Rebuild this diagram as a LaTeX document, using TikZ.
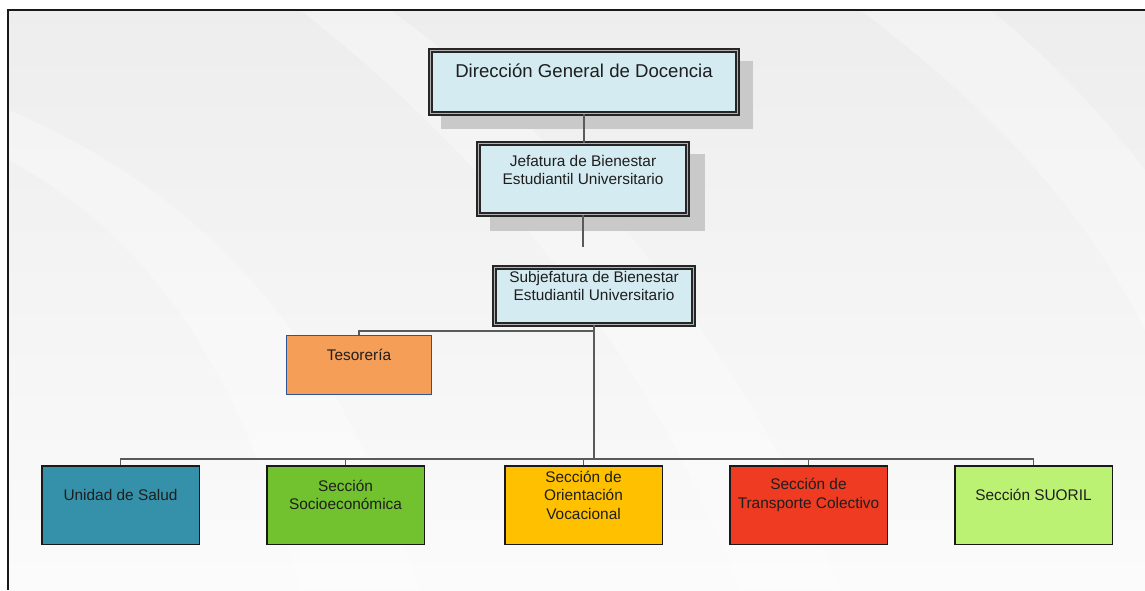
\documentclass[tikz,border=0pt]{standalone}
\usepackage{fontspec}
\setmainfont{Liberation Sans}
\definecolor{boxblue}{HTML}{D4EBF1}
\definecolor{shadowc}{HTML}{C9C9C9}
\definecolor{linec}{HTML}{5A5A5A}
\definecolor{txtc}{HTML}{1E1E1E}
\definecolor{salud}{HTML}{3591A9}
\definecolor{socio}{HTML}{72C22F}
\definecolor{orient}{HTML}{FFC000}
\definecolor{transp}{HTML}{EE3B22}
\definecolor{suoril}{HTML}{BCF274}
\definecolor{teso}{HTML}{F59E58}
\definecolor{tesoline}{HTML}{2F5597}
\begin{document}
\begin{tikzpicture}[x=1pt,y=-1pt,
  headbox/.style={rectangle, draw=black!85, line width=1.5pt, double=gray!60,
    double distance=1.1pt, fill=boxblue, inner sep=0pt},
  unitbox/.style={rectangle, draw=black!90, line width=1.5pt, inner sep=0pt,
    minimum width=157.5, minimum height=78.5, fill=#1},
  txt/.style={align=center, inner sep=0pt, text=txtc,
    font=\fontsize{15.4}{18.6}\selectfont},
  bigtxt/.style={txt, font=\fontsize{18.6}{22}\selectfont},
  conn/.style={draw=linec, line width=1.2pt},
  band/.style={fill=white, opacity=0.3}]
\useasboundingbox (0,0) rectangle (1145,590);
\fill[white] (0,0) rectangle (1145,590);

% page background with soft light bands
\shade[top color=black!7, bottom color=black!1.5] (8,10) rectangle (1145,590);
\begin{scope}
  \clip (8,10) rectangle (1145,590);
  \fill[band] (300,10) .. controls (480,150) and (650,350) .. (740,590)
    -- (840,590) .. controls (750,350) and (570,140) .. (390,10) -- cycle;
  \fill[band] (860,10) .. controls (980,100) and (1080,200) .. (1145,330)
    -- (1145,170) .. controls (1090,100) and (1040,50) .. (990,10) -- cycle;
  \fill[band] (8,160) .. controls (140,230) and (240,360) .. (300,590)
    -- (420,590) .. controls (340,340) and (200,190) .. (8,110) -- cycle;
\end{scope}

% frame lines
\draw[line width=2.2pt, black!90] (8,590) -- (8,10) -- (1145,10);

% drop shadows of the two upper boxes
\fill[shadowc] (441,61) rectangle (753,129);
\fill[shadowc] (490,154) rectangle (705,231);

% upper management boxes
\node[headbox, minimum width=307, minimum height=63] (dgd) at (584,82) {};
\node[bigtxt] (dgdt) at ([yshift=11]dgd.center) {Dirección General de Docencia};

\node[headbox, minimum width=209, minimum height=71] (jef) at (583,179) {};
\node[txt] (jeft) at ([yshift=9]jef.center) {Jefatura de Bienestar\\Estudiantil Universitario};

\node[headbox, minimum width=199, minimum height=57] (sub) at (594,296) {};
\node[txt] (subt) at ([yshift=10]sub.center) {Subjefatura de Bienestar\\Estudiantil Universitario};

% treasury
\node[rectangle, draw=tesoline, line width=1.4pt, fill=teso, inner sep=0pt,
  minimum width=144.6, minimum height=58.6] (tes) at (359,365) {};
\node[txt] (test) at ([yshift=10]tes.center) {Tesorería};

% sections
\node[unitbox=salud]  (sal) at (120.5,505) {};
\node[unitbox=socio]  (soc) at (345.5,505) {};
\node[unitbox=orient] (ori) at (583.5,505) {};
\node[unitbox=transp] (tra) at (808.5,505) {};
\node[unitbox=suoril] (suo) at (1033.5,505) {};
\node[txt] (salt) at ([yshift=10]sal.center) {Unidad de Salud};
\node[txt] (soct) at ([yshift=10]soc.center) {Sección\\Socioeconómica};
\node[txt] (orit) at ([yshift=10]ori.center) {Sección de\\Orientación\\Vocacional};
\node[txt] (trat) at ([yshift=10]tra.center) {Sección de\\Transporte Colectivo};
\node[txt] (suot) at ([yshift=10]suo.center) {Sección SUORIL};

% connectors
\coordinate (jefend) at (583,247);
\coordinate (bus) at (594,459);
\coordinate (tbr) at (594,331);
\draw[conn] (dgd.south) -- (dgd.south |- jef.north);
\draw[conn] (jef.south) -- (jefend);
\draw[conn] (sub.south) -- (bus);
\draw[conn] (tbr) -| (tes.north);
\draw[conn] (sal.north) |- (bus) -| (suo.north);
\draw[conn] (soc.north) -- (soc.north |- bus);
\draw[conn] (ori.north) -- (ori.north |- bus);
\draw[conn] (tra.north) -- (tra.north |- bus);
\end{tikzpicture}
\end{document}
